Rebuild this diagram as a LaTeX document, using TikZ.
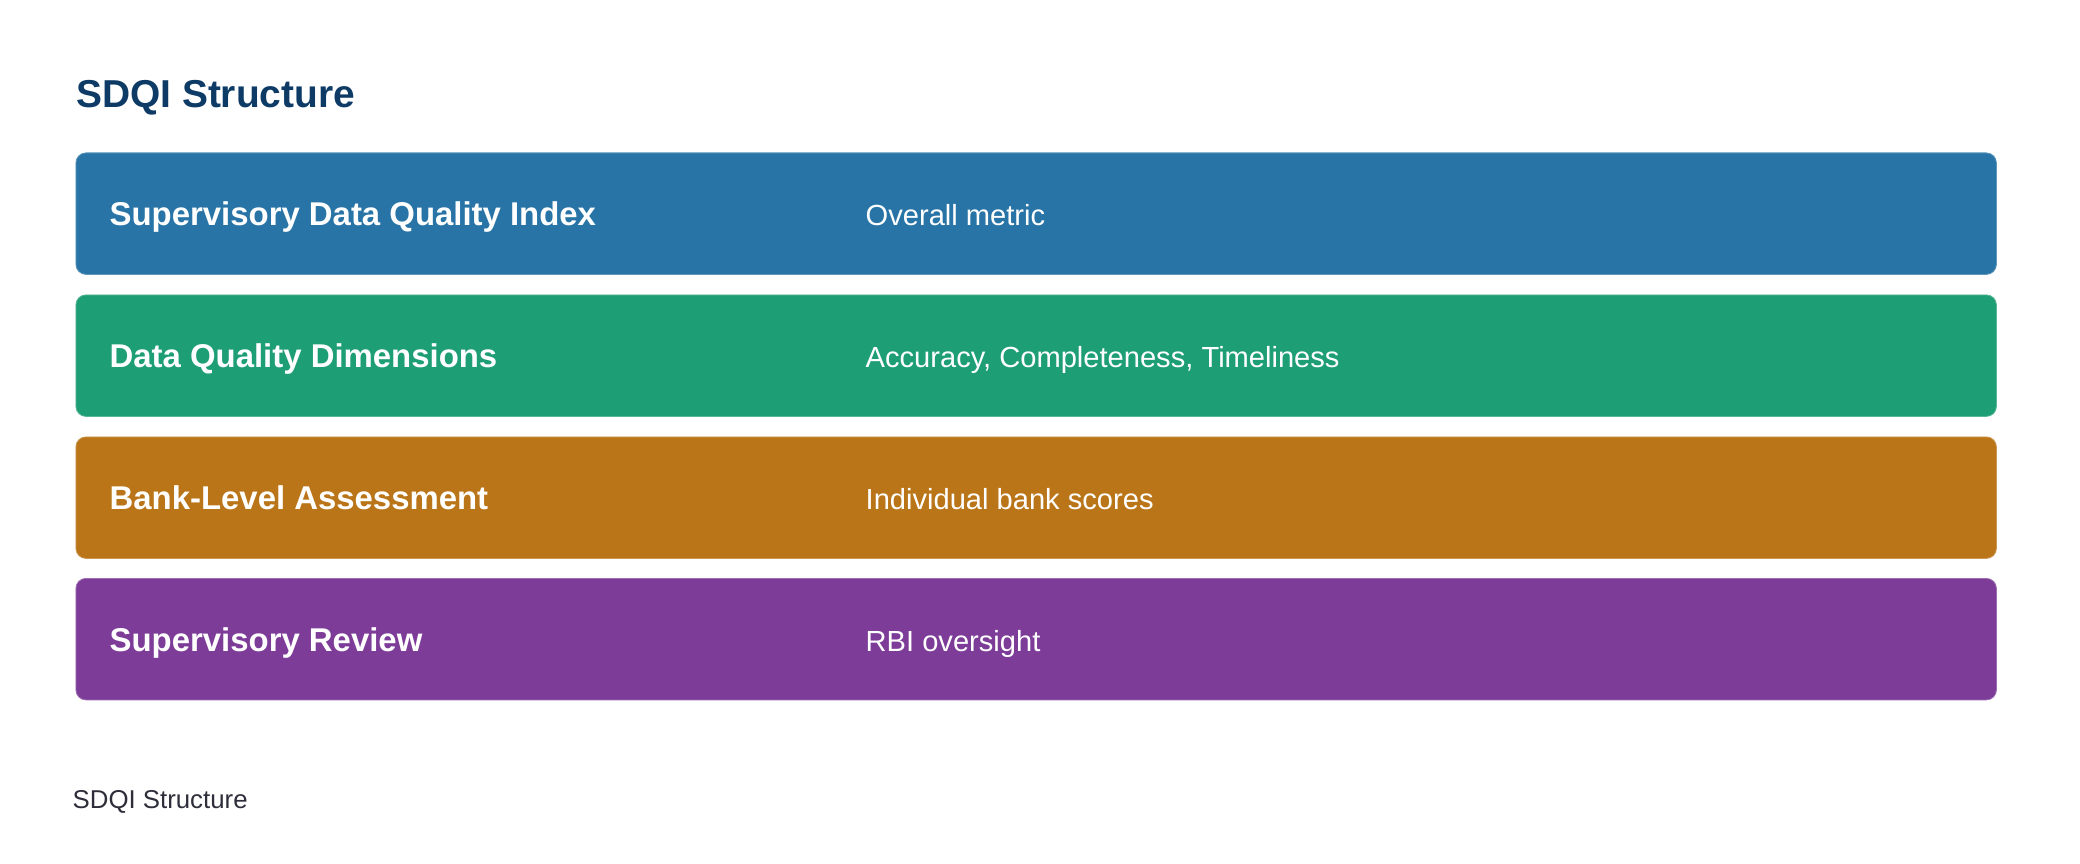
\documentclass[tikz,border=0pt]{standalone}
\usepackage{fontspec}
\setmainfont{Liberation Sans}
\definecolor{cblue}{HTML}{2874A6}
\definecolor{cgreen}{HTML}{1E9E75}
\definecolor{corange}{HTML}{BA7518}
\definecolor{cpurple}{HTML}{7D3C98}
\definecolor{ctitle}{HTML}{0D3B66}
\definecolor{cfoot}{HTML}{2E2E3A}
\begin{document}
\begin{tikzpicture}[x=1pt,y=-1pt,
  band/.style={rounded corners=10pt, minimum width=1920.5pt, minimum height=121.5pt,
    inner sep=0pt, anchor=north west, line width=0.8pt},
  lbl/.style={anchor=base west, inner sep=0pt, text=white,
    font=\fontsize{32.9}{38}\selectfont\bfseries},
  desc/.style={anchor=base west, inner sep=0pt, text=white,
    font=\fontsize{29.1}{34}\selectfont},
  ttl/.style={anchor=base west, inner sep=0pt, text=ctitle,
    font=\fontsize{38.9}{44}\selectfont\bfseries},
  foot/.style={anchor=base west, inner sep=0pt, text=cfoot,
    font=\fontsize{25.8}{30}\selectfont}]
\useasboundingbox (0,0) rectangle (2080,864);
\node[ttl] (title) at (76,107.5) {SDQI Structure};

\node[band, fill=cblue, draw=cblue!75!white] (b1) at (75.5,152.5) {};
\node[band, fill=cgreen, draw=cgreen!75!white] (b2) at (75.5,294.5) {};
\node[band, fill=corange, draw=corange!75!white] (b3) at (75.5,436.5) {};
\node[band, fill=cpurple, draw=cpurple!75!white] (b4) at (75.5,578) {};

\node[lbl] (l1) at (109.5,225.7) {Supervisory Data Quality Index};
\node[desc] (d1) at (865.5,225.7) {Overall metric};
\node[lbl] (l2) at (109.5,367.7) {Data Quality Dimensions};
\node[desc] (d2) at (865.5,367.7) {Accuracy, Completeness, Timeliness};
\node[lbl] (l3) at (109.5,509.7) {Bank-Level Assessment};
\node[desc] (d3) at (865.5,509.7) {Individual bank scores};
\node[lbl] (l4) at (109.5,651.2) {Supervisory Review};
\node[desc] (d4) at (865.5,651.2) {RBI oversight};

\node[foot] (footer) at (72.5,808) {SDQI Structure};
\end{tikzpicture}
\end{document}
